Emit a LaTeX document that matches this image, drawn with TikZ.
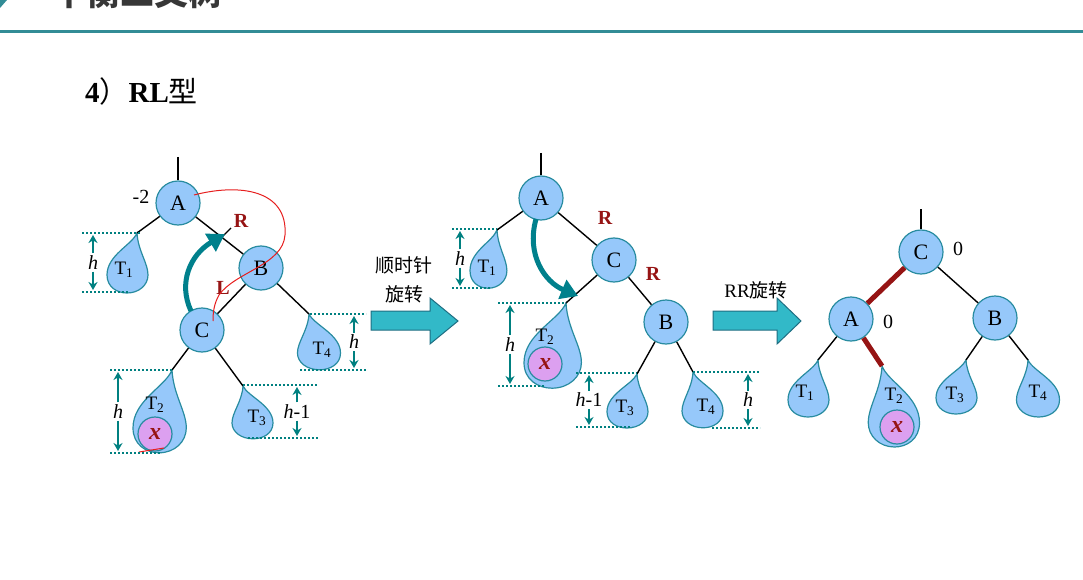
\documentclass[tikz,border=0pt]{standalone}
\usepackage{fontspec}
\setmainfont{Liberation Serif}
\newfontfamily\cjk{Noto Sans CJK SC}
\usetikzlibrary{arrows.meta}

\definecolor{nodefill}{RGB}{150,200,250}
\definecolor{nodeline}{RGB}{40,140,160}
\definecolor{xfill}{RGB}{220,160,240}
\definecolor{turnteal}{RGB}{0,128,140}
\definecolor{dimteal}{RGB}{0,128,128}
\definecolor{blockfill}{RGB}{50,185,200}
\definecolor{blockline}{RGB}{30,110,130}
\definecolor{deepred}{RGB}{150,20,20}
\definecolor{penred}{RGB}{230,30,30}
\definecolor{ruleteal}{RGB}{50,140,150}
\definecolor{headgray}{RGB}{55,55,55}

\tikzset{
  tnode/.style={circle, draw=nodeline, fill=nodefill, line width=1.2pt,
    minimum size=44pt, inner sep=0pt, font=\fontsize{22}{22}\selectfont},
  dropshape/.style={draw=nodeline, fill=nodefill, line width=1.2pt},
  xball/.style={circle, draw=nodeline, fill=xfill, line width=1.2pt,
    minimum size=34pt, inner sep=0pt, text=deepred,
    font=\fontsize{24}{24}\selectfont\bfseries\itshape},
  tlabel/.style={inner sep=0pt, font=\fontsize{19}{19}\selectfont},
  edge/.style={line width=1.4pt, black},
  redge/.style={line width=5pt, deepred},
  dots/.style={dimteal, line width=2pt, dash pattern=on 2pt off 2pt},
  dimarr/.style={dimteal, line width=1.5pt, -{Stealth[length=8pt,width=9pt]}},
  dimlabel/.style={inner sep=2pt, font=\fontsize{20}{20}\selectfont},
  turnarr/.style={turnteal, line width=5pt, -{Triangle[length=17pt,width=20pt]}},
  blockarr/.style={fill=blockfill, draw=blockline, line width=1pt},
  tag/.style={inner sep=0pt, font=\fontsize{20}{20}\selectfont},
  rtag/.style={inner sep=0pt, text=deepred, font=\fontsize{20}{20}\selectfont\bfseries},
  captext/.style={inner sep=0pt, font=\cjk\fontsize{19}{19}\selectfont}
}

% teardrop subtree: name of tip coordinate, tip x, tip y, xscale, yscale
\newcommand\drop[5]{%
  \coordinate (#1) at (#2,#3);
  \begin{scope}[shift={(#2,#3)}, xscale=#4, yscale=#5]
    \path[dropshape] (0,0) .. controls (-5,12) and (-30,22) .. (-30,42)
      .. controls (-30,54) and (-20,60) .. (-10,60)
      .. controls (2,60) and (11,52) .. (11,42)
      .. controls (11,30) and (1,18) .. (0,0) -- cycle;
  \end{scope}}

% height marker: name, x, top y, bottom y, label
\newcommand\hdim[5]{%
  \node[dimlabel] (#1) at (#2,{(#3+#4)/2}) {#5};
  \coordinate (#1t) at (#2,#3);
  \coordinate (#1b) at (#2,#4);
  \draw[dimarr] (#1) -- (#1t);
  \draw[dimarr] (#1) -- (#1b);}

\begin{document}
\begin{tikzpicture}[x=1pt,y=-1pt]
\useasboundingbox (0,0) rectangle (1083,580);
\clip (0,0) rectangle (1083,580);

% page header
\fill[ruleteal] (0,0) -- (7,0) -- (0,8) -- cycle;
\node[anchor=base west, inner sep=0pt, text=headgray,
  font=\cjk\bfseries\fontsize{34}{34}\selectfont] (header) at (52,6) {平衡二叉树};
\draw[ruleteal, line width=3pt] (0,32) -- (1083,32);
\node[anchor=base west, inner sep=0pt, font=\fontsize{29}{29}\selectfont\bfseries]
  (title) at (85,103) {4{\cjk\mdseries ）}RL{\cjk\mdseries 型}};

% ---------- tree before rotation ----------
\node[tnode] (a1) at (178,203) {A};
\node[tnode] (b1) at (261,268) {B};
\node[tnode] (c1) at (202,330) {C};
\coordinate (a1top) at (178,157);

\drop{d11}{137}{233}{1}{1}
\drop{d12}{172}{370}{1.3}{1.38}
\drop{d13}{243}{386}{-1}{0.88}
\drop{d14}{309}{314}{-1.05}{0.93}

\draw[edge] (a1top) -- (a1);
\draw[edge] (a1) -- (d11);
\draw[edge] (a1) -- (b1);
\draw[edge] (b1) -- (d14);
\draw[edge] (b1) -- (c1);
\draw[edge] (c1) -- (d12);
\draw[edge] (c1) -- (d13);

\node[tlabel] (l11) at (124,270) {T\textsubscript{1}};
\node[tlabel] (l12) at (155,405) {T\textsubscript{2}};
\node[xball] (x1) at (155,434) {x};
\node[tlabel] (l13) at (257,418) {T\textsubscript{3}};
\node[tlabel] (l14) at (322,350) {T\textsubscript{4}};

\node[tag] (bf1) at (141,197) {-2};
\node[rtag] (r1) at (241,221) {R};
\node[rtag] (el1) at (223,288) {L};

% cut mark on the A--B link
\coordinate (cut1) at (216,243);
\coordinate (cut2) at (231,228);
\draw[line width=1.3pt] (cut1) -- (cut2);

% red pen strokes
\coordinate (pen0) at (194,195);
\coordinate (pen1) at (285,235);
\coordinate (pen2) at (213,321);
\draw[penred, line width=1pt] (pen0) .. controls (240,183) and (288,190) .. (pen1)
  .. controls (283,265) and (235,272) .. (219,295)
  .. controls (214,304) and (213,312) .. (pen2);
\coordinate (pen3) at (139,452);
\coordinate (pen4) at (164,448);
\draw[penred, line width=1pt] (pen3) -- (pen4);

% rotation arrow
\coordinate (turn1s) at (191,311);
\coordinate (turn1e) at (225,234);
\draw[turnarr] (turn1s) .. controls (178,283) and (190,255) .. (turn1e);

% subtree heights
\draw[dots] (82,233) -- (140,233);
\draw[dots] (82,292) -- (128,292);
\hdim{h11}{93}{235}{290}{\textit{h}}
\draw[dots] (310,314) -- (366,314);
\draw[dots] (300,370) -- (366,370);
\hdim{h14}{354}{316}{368}{\textit{h}}
\draw[dots] (110,370) -- (172,370);
\draw[dots] (110,453) -- (160,453);
\hdim{h12}{118}{372}{451}{\textit{h}}
\draw[dots] (243,385) -- (318,385);
\draw[dots] (248,438) -- (318,438);
\hdim{h13}{297}{387}{436}{\textit{h}-1}

% first step arrow
\path[blockarr] (371,311) -- (430,311) -- (430,298) -- (458,321) -- (430,344)
  -- (430,330) -- (371,330) -- cycle;
\node[captext] (cw1) at (404,265) {顺时针};
\node[captext] (cw2) at (404,294) {旋转};

% ---------- tree after the right turn at B ----------
\node[tnode] (a2) at (541,198) {A};
\node[tnode] (c2) at (614,260) {C};
\node[tnode] (b2) at (666,322) {B};
\coordinate (a2top) at (541,153);

\drop{d21}{497}{230}{0.9}{0.97}
\drop{d22}{566}{303}{1.4}{1.42}
\drop{d23}{637}{374}{1}{0.9}
\drop{d24}{693}{372}{-1}{0.93}

\draw[edge] (a2top) -- (a2);
\draw[edge] (a2) -- (d21);
\draw[edge] (a2) -- (c2);
\draw[edge] (c2) -- (d22);
\draw[edge] (c2) -- (b2);
\draw[edge] (b2) -- (d23);
\draw[edge] (b2) -- (d24);

\node[tlabel] (l21) at (487,268) {T\textsubscript{1}};
\node[tlabel] (l22) at (545,337) {T\textsubscript{2}};
\node[xball] (x2) at (545,364) {x};
\node[tlabel] (l23) at (625,408) {T\textsubscript{3}};
\node[tlabel] (l24) at (706,407) {T\textsubscript{4}};

\node[rtag] (r21) at (605,218) {R};
\node[rtag] (r22) at (653,274) {R};

\coordinate (turn2s) at (536,219);
\coordinate (turn2e) at (578,296);
\draw[turnarr] (turn2s) .. controls (526,255) and (545,282) .. (turn2e);

\draw[dots] (452,229) -- (497,229);
\draw[dots] (452,288) -- (492,288);
\hdim{h21}{460}{231}{286}{\textit{h}}
\draw[dots] (498,303) -- (566,303);
\draw[dots] (498,386) -- (545,386);
\hdim{h22}{510}{305}{384}{\textit{h}}
\draw[dots] (576,373) -- (637,373);
\draw[dots] (576,427) -- (632,427);
\hdim{h23}{589}{375}{425}{\textit{h}-1}
\draw[dots] (693,372) -- (760,372);
\draw[dots] (712,428) -- (760,428);
\hdim{h24}{748}{374}{426}{\textit{h}}

% second step arrow
\path[blockarr] (713,311) -- (777,311) -- (777,298) -- (801,321) -- (777,344)
  -- (777,330) -- (713,330) -- cycle;
\node[captext] (rr) at (756,290) {{\rmfamily RR}旋转};

% ---------- balanced tree ----------
\node[tnode] (c3) at (921,252) {C};
\node[tnode] (a3) at (851,319) {A};
\node[tnode] (b3) at (995,318) {B};
\coordinate (c3top) at (921,209);

\drop{d31}{818}{360}{1}{0.95}
\drop{d32}{882}{366}{-1.25}{1.35}
\drop{d33}{966}{360}{1}{0.9}
\drop{d34}{1028}{360}{-1.05}{0.95}

\draw[edge] (c3top) -- (c3);
\draw[redge] (c3) -- (a3);
\draw[edge] (c3) -- (b3);
\draw[edge] (a3) -- (d31);
\draw[redge] (a3) -- (d32);
\draw[edge] (b3) -- (d33);
\draw[edge] (b3) -- (d34);

\node[tlabel] (l31) at (805,393) {T\textsubscript{1}};
\node[tlabel] (l32) at (894,396) {T\textsubscript{2}};
\node[xball] (x3) at (897,427) {x};
\node[tlabel] (l33) at (955,395) {T\textsubscript{3}};
\node[tlabel] (l34) at (1038,393) {T\textsubscript{4}};

\node[tag] (bf3c) at (958,249) {0};
\node[tag] (bf3a) at (888,322) {0};
\end{tikzpicture}
\end{document}
